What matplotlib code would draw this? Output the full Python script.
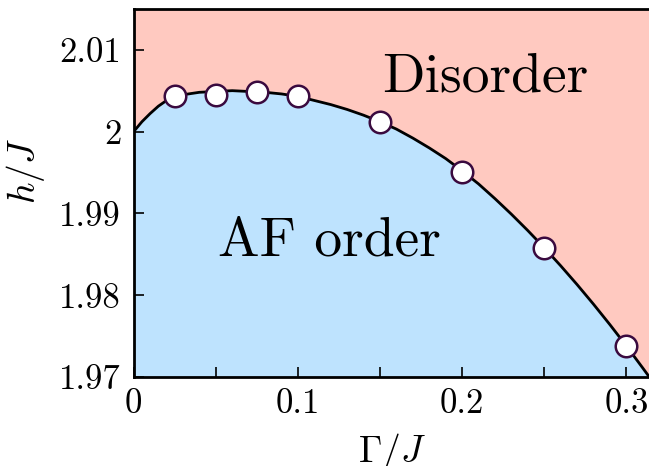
import numpy as np
import matplotlib
matplotlib.use('Agg')
import matplotlib.pyplot as plt
from matplotlib.ticker import FixedLocator, FixedFormatter, MultipleLocator

# phase boundary (line)
curve_gamma = [0.0, 0.005, 0.01, 0.015, 0.02, 0.025, 0.03, 0.04, 0.05, 0.06,
               0.07, 0.08, 0.09, 0.1, 0.11, 0.12, 0.13, 0.14, 0.15, 0.16,
               0.17, 0.18, 0.19, 0.2, 0.21, 0.22, 0.23, 0.24, 0.25, 0.26,
               0.27, 0.28, 0.29, 0.3, 0.31, 0.314]
curve_h = [2.0000, 2.0012, 2.0022, 2.0031, 2.0038, 2.0042, 2.0045, 2.0048, 2.0049, 2.0050,
           2.0049, 2.0048, 2.0046, 2.0043, 2.0038, 2.0033, 2.0027, 2.0020, 2.0012, 2.0003,
           1.9992, 1.9980, 1.9967, 1.9952, 1.9936, 1.9918, 1.9899, 1.9879, 1.9858, 1.9836,
           1.9813, 1.9789, 1.9764, 1.9738, 1.9711, 1.9700]

# numerical data points
pts_gamma = [0.025, 0.05, 0.075, 0.1, 0.15, 0.2, 0.25, 0.3]
pts_h = [2.0043, 2.0045, 2.0048, 2.0043, 2.0012, 1.9951, 1.9858, 1.9738]

yticks = [1.97, 1.98, 1.99, 2.0, 2.01]
ytick_labels = ['1.97', '1.98', '1.99', '2', '2.01']
xticks = [0.0, 0.1, 0.2, 0.3]
xtick_labels = ['0', '0.1', '0.2', '0.3']

plt.rcParams['font.family'] = 'serif'
plt.rcParams['font.serif'] = ['cmr10']
plt.rcParams['mathtext.fontset'] = 'cm'
plt.rcParams['axes.unicode_minus'] = False

pink = '#ffc9c0'
blue = '#bee3fe'

fig = plt.figure(figsize=(6.49, 4.66), dpi=100)
ax = fig.add_axes([0.206, 0.191, 0.7945, 0.790])
ax.set_facecolor(pink)

ax.fill_between(curve_gamma, 1.97, curve_h, color=blue, linewidth=0)
ax.plot(curve_gamma, curve_h, color='k', linewidth=2.0, zorder=3)
ax.plot(pts_gamma, pts_h, 'o', markersize=15.5, markerfacecolor='white',
        markeredgecolor='#3a0a3f', markeredgewidth=1.8, zorder=4)

ax.set_xlim(0, 0.314)
ax.set_ylim(1.97, 2.015)

ax.xaxis.set_major_locator(FixedLocator(xticks))
ax.xaxis.set_major_formatter(FixedFormatter(xtick_labels))
ax.xaxis.set_minor_locator(MultipleLocator(0.05))
ax.yaxis.set_major_locator(FixedLocator(yticks))
ax.yaxis.set_major_formatter(FixedFormatter(ytick_labels))

ax.tick_params(axis='both', which='both', direction='in', length=7.5, width=1.2,
               top=False, right=False, labelsize=25, colors='k')
ax.tick_params(axis='x', which='both', pad=8)
ax.tick_params(axis='y', which='both', pad=9)

for s in ['left', 'bottom', 'top']:
    ax.spines[s].set_linewidth(2.0)
ax.spines['right'].set_visible(False)

ax.set_xlabel(r'$\Gamma/J$', fontsize=27)
ax.set_ylabel(r'$h/J$', fontsize=27)
ax.xaxis.set_label_coords(0.5, -0.148)
ax.yaxis.set_label_coords(-0.168, 0.56)

ax.text(0.214, 2.0049, 'Disorder', fontsize=40, ha='center', va='baseline')
ax.text(0.119, 1.98491, 'AF order', fontsize=40, ha='center', va='baseline')

fig.savefig('out.png', dpi=100)
